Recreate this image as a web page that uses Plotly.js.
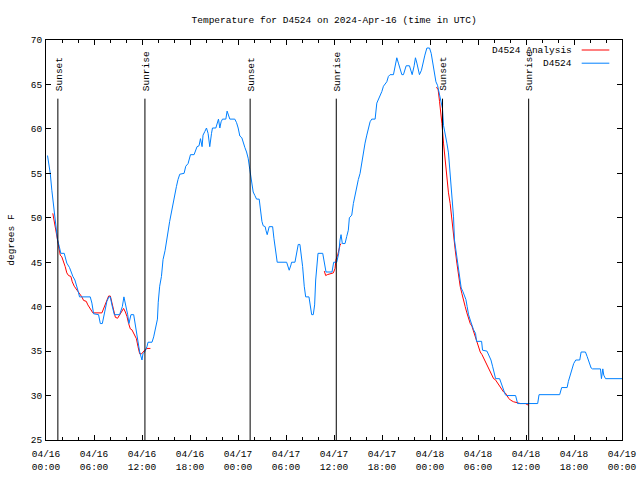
<!DOCTYPE html>
<html><head><meta charset="utf-8">
<script src="https://cdn.plot.ly/plotly-3.0.1.min.js"></script>
<style>html,body{margin:0;padding:0;background:#fff}</style>
</head><body><div id="chart" style="width:640px;height:480px"></div>
<script>
// Hours since 2024-04-16 00:00 UTC and temperatures (deg F)
const obsHours = [0.19,0.28,0.53,0.73,0.94,1.06,1.19,1.44,1.65,1.85,2.28,2.44,2.60,2.94,3.11,3.36,3.61,3.86,4.03,4.19,5.53,5.74,5.95,6.57,6.79,7.04,7.29,7.61,7.86,8.04,8.24,8.54,9.20,9.54,9.74,9.99,10.21,10.37,10.62,10.96,11.17,11.40,11.71,12.00,12.12,12.33,12.62,12.75,13.25,13.46,13.62,13.80,13.93,14.03,14.21,14.43,14.63,14.88,15.05,15.25,15.46,15.68,15.88,16.09,16.30,16.50,16.72,17.26,17.47,17.76,17.97,18.06,18.51,18.72,18.88,19.13,19.31,19.51,19.63,19.85,20.06,20.26,20.47,20.69,20.81,21.23,21.39,21.56,21.73,21.89,22.06,22.48,22.64,22.77,22.98,23.60,23.82,24.02,24.23,24.48,24.64,24.86,25.07,25.27,25.48,25.69,25.90,26.11,26.32,26.65,26.82,26.99,27.15,27.40,27.49,27.65,27.90,28.33,28.49,28.70,28.90,30.08,30.40,30.62,30.70,31.12,31.33,31.53,31.74,31.90,32.08,32.28,32.46,32.87,33.08,33.21,33.41,33.58,33.71,33.91,34.00,34.59,34.75,34.91,35.00,35.75,35.96,36.34,36.59,36.75,36.88,37.04,37.38,37.59,37.79,37.92,38.22,38.42,38.63,38.84,39.04,39.26,39.47,39.67,39.88,40.10,40.30,40.51,40.72,41.14,41.35,41.55,41.76,41.98,42.18,42.39,42.60,42.80,43.01,43.43,43.64,43.85,44.05,44.27,44.48,44.68,44.89,45.02,45.43,45.61,45.77,46.02,46.18,46.36,46.52,46.68,46.93,47.11,47.36,47.61,47.94,48.15,48.36,48.52,48.74,48.94,49.15,49.36,49.56,49.69,49.90,50.11,50.31,50.52,50.74,50.94,51.06,51.28,51.49,51.69,51.90,52.11,52.31,52.49,52.65,52.82,53.03,53.24,53.44,53.69,53.82,54.45,54.57,55.12,55.32,55.62,55.82,56.04,56.20,56.70,56.88,57.13,57.41,57.54,58.70,58.95,61.46,61.63,64.21,64.46,65.14,65.30,65.55,65.76,65.96,66.22,66.72,66.89,67.43,67.64,67.89,68.14,68.31,69.31,69.43,69.60,69.72,69.94,72.00];
const obsTemps = [57.0,56.5,55.0,53.1,51.4,50.5,49.0,47.5,46.8,46.0,46.0,45.5,44.9,44.4,43.9,43.4,43.0,42.3,41.7,41.1,41.1,40.4,39.2,39.1,38.1,38.1,39.1,40.6,41.1,41.1,40.2,39.1,39.1,40.0,41.1,40.2,39.1,38.1,39.1,39.1,37.8,36.3,34.9,34.0,34.7,34.9,35.5,36.0,36.0,36.6,37.2,37.9,38.6,40.5,42.3,43.4,45.3,46.3,47.5,48.4,49.6,50.7,51.8,52.8,53.5,54.3,54.9,55.0,55.8,56.1,56.7,57.1,57.1,57.7,58.0,58.1,58.9,58.0,59.3,59.7,60.1,59.5,58.0,59.5,60.1,60.1,60.7,61.1,60.1,60.8,61.1,61.1,62.0,61.6,61.1,61.1,60.7,60.1,59.2,59.0,58.4,57.9,57.4,56.7,55.4,53.9,52.9,52.5,52.1,52.1,50.7,49.6,49.1,49.0,48.6,48.1,49.0,49.0,47.7,46.4,45.0,45.0,44.1,44.7,45.0,45.0,46.0,47.0,47.0,46.0,44.5,42.3,41.1,41.1,40.0,39.1,39.1,40.2,43.0,45.1,46.0,46.0,45.3,44.5,43.9,43.9,45.0,45.0,46.0,47.5,48.1,47.1,47.1,47.9,48.6,50.0,50.3,51.6,52.6,53.5,54.3,55.0,56.1,57.6,58.4,59.3,60.1,60.8,61.1,61.1,62.9,63.3,63.8,64.2,64.8,65.1,65.3,65.9,66.1,66.1,67.1,68.0,67.4,66.6,66.1,66.1,66.6,67.1,67.1,66.6,66.1,67.1,68.0,67.4,66.6,66.1,66.6,67.4,68.3,69.1,69.1,68.5,67.4,66.3,65.3,64.9,64.0,63.3,62.3,60.4,59.5,58.4,57.3,55.0,52.0,50.1,47.5,46.0,44.5,43.0,42.1,41.7,41.3,40.8,40.0,39.1,38.5,37.9,37.4,37.0,36.1,36.1,35.1,35.0,34.6,34.0,33.3,32.3,31.9,31.9,31.4,30.8,30.1,30.0,30.0,29.1,29.1,30.1,30.1,30.9,30.9,31.6,32.3,33.1,33.6,34.0,34.0,34.9,34.9,34.4,33.8,33.1,33.0,33.0,31.9,33.0,32.3,31.9,31.9];

const anaHours = [0.85,1.03,1.19,1.35,1.57,1.78,1.98,2.19,2.40,2.60,2.82,3.11,3.28,3.53,3.86,4.19,4.48,4.70,5.03,5.23,5.53,5.86,6.99,7.29,7.61,7.83,8.04,8.24,8.45,8.67,8.95,9.20,9.49,9.70,9.92,10.12,10.33,10.54,10.74,10.96,11.17,11.30,11.50,11.71,11.96,12.12,12.33,12.62,13.05,null,34.79,34.96,35.16,35.59,35.92,36.13,36.25,36.46,36.63,36.75,36.88,null,48.81,49.02,49.19,49.36,49.49,49.69,49.90,50.11,50.31,50.52,50.74,50.94,51.15,51.36,51.56,51.77,51.98,52.19,52.40,52.61,52.82,53.03,53.24,53.44,53.66,53.87,54.07,54.28,54.50,54.70,54.91,55.12,55.32,55.53,55.74,55.95,56.16,56.37,56.57,56.79,57.00,57.20,57.41,57.63,57.83,58.04,58.45,58.88,59.29,59.92,60.33];
const anaTemps = [50.5,49.6,48.6,47.9,46.8,45.8,45.6,45.1,44.5,43.8,43.5,43.4,42.8,42.3,41.9,41.5,41.1,40.7,40.6,40.2,39.8,39.3,39.3,40.0,40.8,41.2,41.2,40.4,39.3,38.8,38.7,39.1,39.6,39.8,39.4,38.9,38.1,37.5,37.4,37.0,36.5,36.4,35.5,34.7,34.7,34.9,35.1,35.3,35.3,null,44.0,43.5,43.6,43.7,43.8,44.3,45.3,45.8,46.5,46.9,47.1,null,64.7,64.4,63.1,61.9,60.6,58.4,56.3,54.6,52.8,51.6,49.8,47.5,46.4,44.9,43.4,42.3,41.5,40.6,40.0,39.3,38.7,38.1,37.8,37.2,36.6,36.1,35.5,34.9,34.6,34.2,33.8,33.4,33.1,32.7,32.3,31.9,31.8,31.5,31.2,31.0,30.7,30.4,30.3,29.9,29.7,29.5,29.3,29.2,29.1,29.1,28.9];

const eventLabels = ['Sunset','Sunrise','Sunset','Sunrise','Sunset','Sunrise'];
const eventTimes = ['2024-04-16 01:29','2024-04-16 12:22','2024-04-17 01:31','2024-04-17 12:17','2024-04-18 01:34','2024-04-18 12:20'];

const seriesNames = ['D4524 Analysis','D4524'];
const seriesColors = ['#ff0000','#0080ff'];

const titleText = 'Temperature for D4524 on 2024-Apr-16 (time in UTC)';
const yTitle = 'degrees F';

function toDate(h){
  if (h === null) return null;
  const ms = Date.UTC(2024,3,16) + h*3600000;
  return new Date(ms).toISOString().replace('T',' ').slice(0,19);
}

const FONT = 'Liberation Mono, DejaVu Sans Mono, monospace';

const traces = [
  {x: anaHours.map(toDate), y: anaTemps, mode:'lines', name: seriesNames[0],
   line:{color:seriesColors[0], width:1}, connectgaps:false, showlegend:false},
  {x: obsHours.map(toDate), y: obsTemps, mode:'lines', name: seriesNames[1],
   line:{color:seriesColors[1], width:1}, showlegend:false}
];

const shapes = eventTimes.map(t => ({type:'line', xref:'x', yref:'y', x0:t, x1:t, y0:25, y1:63.4,
  line:{color:'#000', width:1}, layer:'above'}));
const annotations = eventTimes.map((t,i) => ({x:t, y:64.0, xref:'x', yref:'y', text:eventLabels[i],
  textangle:-90, showarrow:false, xanchor:'center', yanchor:'bottom', xshift:1,
  font:{family:FONT, size:9.5, color:'#000'}}));

// manual legend (gnuplot style: text right, sample to the right)
const legY = [0.975, 0.942];
seriesNames.forEach((n,i) => {
  annotations.push({x:0.917, y:legY[i], xref:'paper', yref:'paper', text:n, showarrow:false,
    xanchor:'right', yanchor:'middle', font:{family:FONT, size:9.5, color:'#000'}});
  shapes.push({type:'line', xref:'paper', yref:'paper', x0:0.930, x1:0.978, y0:legY[i], y1:legY[i],
    line:{color:seriesColors[i], width:1}});
});

const layout = {
  width:640, height:480,
  margin:{l:46, r:18, t:40, b:40},
  paper_bgcolor:'#fff', plot_bgcolor:'#fff',
  font:{family:FONT, size:9.5, color:'#000'},
  title:{text:titleText, x:0.522, xanchor:'center', y:0.96, yanchor:'middle', font:{family:FONT, size:9.5}},
  showlegend:false,
  xaxis:{type:'date', range:['2024-04-16 00:00','2024-04-19 00:00'],
    dtick:6*3600000, tick0:'2024-04-16 00:00', tickformat:'%m/%d<br>%H:%M',
    ticks:'inside', ticklen:5, tickcolor:'#000', showgrid:false, zeroline:false,
    showline:true, linecolor:'#000', linewidth:1, mirror:'ticks', ticklabelstandoff:5,
    minor:{dtick:2*3600000, ticks:'inside', ticklen:3, tickcolor:'#000', showgrid:false},
    tickfont:{family:FONT, size:9.5}},
  yaxis:{range:[25,70], dtick:5, ticks:'inside', ticklen:5, tickcolor:'#000',
    showgrid:false, zeroline:false, showline:true, linecolor:'#000', linewidth:1, mirror:'ticks',
    ticklabelstandoff:1,
    title:{text:yTitle, standoff:14, font:{family:FONT, size:9.5}}, tickfont:{family:FONT, size:9.5}},
  shapes: shapes,
  annotations: annotations
};

Plotly.newPlot('chart', traces, layout, {displayModeBar:false, staticPlot:true});
</script>
</body></html>
